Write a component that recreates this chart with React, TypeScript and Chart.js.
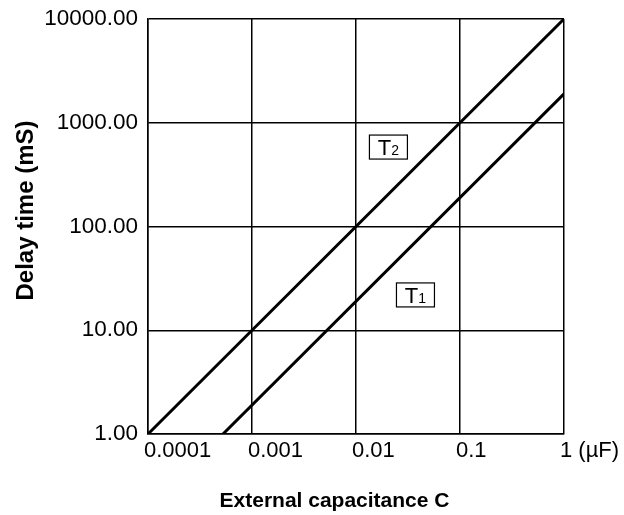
import React, { useEffect, useRef } from "react";
import { Chart, registerables } from "chart.js";

Chart.register(...registerables);

// ---- data ----
const capacitanceTicks = [0.0001, 0.001, 0.01, 0.1, 1];
const capacitanceTickLabels = ["0.0001", "0.001", "0.01", "0.1", "1 (\u00b5F)"];
const delayTicks = [1, 10, 100, 1000, 10000];
const delayTickLabels = ["1.00", "10.00", "100.00", "1000.00", "10000.00"];

const t2Capacitance = [0.0001, 1];
const t2Delay = [1, 10000];
const t1Capacitance = [0.000526, 1];
const t1Delay = [1, 1900];

const seriesLabelMain = ["T", "T"];
const seriesLabelSub = ["2", "1"];
const seriesLabelCap = [0.0205, 0.0373];
const seriesLabelDelay = [583, 21.9];

const xTitle = "External capacitance C";
const yTitle = "Delay time (mS)";

const FONT = "'Liberation Sans', Arial, Helvetica, sans-serif";

const labelsPlugin = {
  id: "seriesLabels",
  afterDatasetsDraw(chart: any) {
    const { ctx, scales } = chart;
    const xs = scales.x;
    const ys = scales.y;
    ctx.save();
    for (let i = 0; i < seriesLabelMain.length; i++) {
      const cx = xs.getPixelForValue(seriesLabelCap[i]);
      const cy = ys.getPixelForValue(seriesLabelDelay[i]);
      const w = 38;
      const h = 24;
      ctx.fillStyle = "#fff";
      ctx.fillRect(cx - w / 2, cy - h / 2, w, h);
      ctx.strokeStyle = "#000";
      ctx.lineWidth = 1.2;
      ctx.strokeRect(cx - w / 2, cy - h / 2, w, h);
      ctx.fillStyle = "#000";
      ctx.textBaseline = "alphabetic";
      ctx.textAlign = "left";
      const mainFont = `22px ${FONT}`;
      const subFont = `14px ${FONT}`;
      ctx.font = mainFont;
      const mw = ctx.measureText(seriesLabelMain[i]).width;
      ctx.font = subFont;
      const sw = ctx.measureText(seriesLabelSub[i]).width;
      const startX = cx - (mw + sw) / 2;
      const base = cy + 8;
      ctx.font = mainFont;
      ctx.fillText(seriesLabelMain[i], startX, base);
      ctx.font = subFont;
      ctx.fillText(seriesLabelSub[i], startX + mw, base);
    }
    ctx.restore();
  },
};

const titlesPlugin = {
  id: "axisTitles",
  afterDraw(chart: any) {
    const { ctx, chartArea } = chart;
    ctx.save();
    ctx.fillStyle = "#000";
    ctx.textAlign = "center";
    ctx.textBaseline = "alphabetic";
    ctx.font = `bold 21px ${FONT}`;
    const cxMid = (chartArea.left + chartArea.right) / 2;
    ctx.fillText(xTitle, cxMid - 21.5, 507);
    ctx.font = `bold 24px ${FONT}`;
    const cyMid = (chartArea.top + chartArea.bottom) / 2;
    ctx.translate(33, cyMid - 16);
    ctx.rotate(-Math.PI / 2);
    ctx.fillText(yTitle, 0, 0);
    ctx.restore();
  },
};

export default function App() {
  const canvasRef = useRef<HTMLCanvasElement | null>(null);

  useEffect(() => {
    if (!canvasRef.current) return;
    const chart = new Chart(canvasRef.current, {
      type: "line",
      data: {
        datasets: [
          {
            label: "T2",
            data: t2Capacitance.map((c, i) => ({ x: c, y: t2Delay[i] })),
            borderColor: "#000",
            borderWidth: 3,
            pointRadius: 0,
            fill: false,
            tension: 0,
          },
          {
            label: "T1",
            data: t1Capacitance.map((c, i) => ({ x: c, y: t1Delay[i] })),
            borderColor: "#000",
            borderWidth: 3,
            pointRadius: 0,
            fill: false,
            tension: 0,
          },
        ],
      },
      options: {
        animation: false,
        responsive: false,
        devicePixelRatio: 1,
        layout: { padding: { left: 0, right: 60, top: 19, bottom: 0 } },
        plugins: {
          legend: { display: false },
          tooltip: { enabled: false },
          title: { display: false },
        },
        scales: {
          x: {
            type: "logarithmic",
            min: 0.0001,
            max: 1,
            afterBuildTicks: (scale: any) => {
              scale.ticks = capacitanceTicks.map((v) => ({ value: v }));
            },
            afterFit: (scale: any) => {
              scale.height = 81;
              scale.paddingLeft = 0;
              scale.paddingRight = 0;
            },
            ticks: {
              autoSkip: false,
              maxRotation: 0,
              minRotation: 0,
              align: "start",
              labelOffset: -4,
              padding: 4,
              color: "#000",
              font: { family: FONT, size: 22 },
              callback: (_v: any, i: number) => capacitanceTickLabels[i],
            },
            grid: { color: "#000", lineWidth: 1.5, drawTicks: false },
            border: { color: "#000", width: 1.5 },
          },
          y: {
            type: "logarithmic",
            min: 1,
            max: 10000,
            afterBuildTicks: (scale: any) => {
              scale.ticks = delayTicks.map((v) => ({ value: v }));
            },
            afterFit: (scale: any) => {
              scale.width = 148;
              scale.paddingTop = 0;
              scale.paddingBottom = 0;
            },
            ticks: {
              autoSkip: false,
              padding: 10,
              color: "#000",
              font: { family: FONT, size: 22.5 },
              callback: (_v: any, i: number) => delayTickLabels[i],
            },
            grid: { color: "#000", lineWidth: 1.5, drawTicks: false },
            border: { color: "#000", width: 1.5 },
          },
        },
      },
      plugins: [labelsPlugin, titlesPlugin],
    } as any);
    return () => chart.destroy();
  }, []);

  return (
    <div style={{ position: "absolute", left: 0, top: 0, width: 624, height: 515, background: "#fff" }}>
      <canvas ref={canvasRef} width={624} height={515} />
    </div>
  );
}
